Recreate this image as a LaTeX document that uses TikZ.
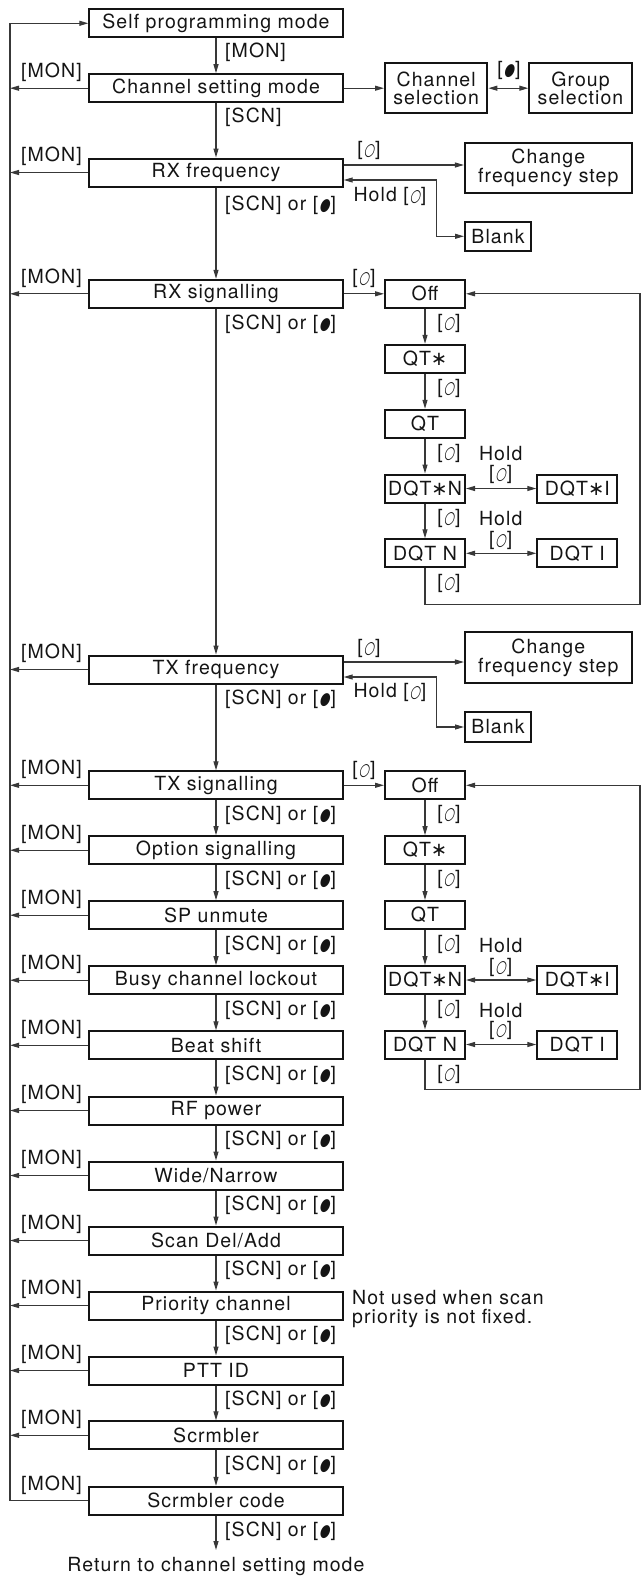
\documentclass[tikz,border=0pt]{standalone}
\usepackage{fontspec}
\setmainfont{TeX Gyre Heros}[LetterSpace=5.5]
\newfontfamily\symf[FakeSlant=0.25,FakeStretch=0.7]{DejaVu Sans}
\newfontfamily\astf{DejaVu Sans}
\newcommand{\kbdot}{\hspace{0.8pt}{\symf\fontsize{17}{17}\selectfont ●}\hspace{1pt}}
\newcommand{\kbring}{\hspace{0.8pt}{\symf\fontsize{17}{17}\selectfont ○}\hspace{1pt}}
\usetikzlibrary{arrows.meta,calc}
\tikzset{
  mbox/.style={draw=black!92, line width=2pt, minimum width=253.4pt, minimum height=28pt, inner sep=0pt},
  gbox/.style={draw=black!92, line width=2pt, inner sep=0pt, align=center},
  sbox/.style={gbox, minimum width=80pt, minimum height=28pt},
  conn/.style={line width=1.1pt, draw=black!78},
  arr/.style={conn, -{Triangle[length=9pt,width=5pt]}},
  barr/.style={conn, {Triangle[length=9pt,width=5pt]}-{Triangle[length=9pt,width=5pt]}},
  lbl/.style={inner sep=0pt},
}
\begin{document}
\begin{tikzpicture}[x=1pt,y=-1pt, every node/.append style={font=\fontsize{19.5}{18.5}\selectfont, text=black!92}]
\useasboundingbox (0,0) rectangle (642,1576);
\coordinate (lx) at (10,0);
\coordinate (lbx) at (51.5,0);
\coordinate (rx) at (640,0);
% main column
\node[mbox] (self) at (216,23.3) {Self programming mode};
\node[mbox] (chset) at (216,88.2) {Channel setting mode};
\node[mbox] (rxf) at (216,172.5) {RX frequency};
\node[mbox] (rxs) at (216,293.8) {RX signalling};
\node[mbox] (txf) at (216,669.5) {TX frequency};
\node[mbox] (txs) at (216,785.3) {TX signalling};
\node[mbox] (opt) at (216,850.2) {Option signalling};
\node[mbox] (spu) at (216,915.2) {SP unmute};
\node[mbox] (bcl) at (216,980.2) {Busy channel lockout};
\node[mbox] (beat) at (216,1045.3) {Beat shift};
\node[mbox] (rfp) at (216,1110.5) {RF power};
\node[mbox] (wn) at (216,1175.5) {Wide/Narrow};
\node[mbox] (scan) at (216,1240.5) {Scan Del/Add};
\node[mbox] (prio) at (216,1305.5) {Priority channel};
\node[mbox] (ptt) at (216,1370.5) {PTT ID};
\node[mbox] (scr) at (216,1435.3) {Scrmbler};
\node[mbox] (scrc) at (216,1500.8) {Scrmbler code};
\coordinate (endc) at (216,1550);
\node[lbl] (ret) at (216,1566) {Return to channel setting mode};
% right-hand top
\node[gbox, minimum width=102.4pt, minimum height=50.6pt] (csel) at (436.2,88.2) {Channel\\selection};
\node[gbox, minimum width=102.4pt, minimum height=50.6pt] (gsel) at (580.5,88.2) {Group\\selection};
\node[gbox, minimum width=166.7pt, minimum height=50pt] (rcfs) at (548.3,167.7) {Change\\frequency step};
\node[gbox, minimum width=66pt, minimum height=29.3pt] (rblank) at (498,236.3) {Blank};
\node[gbox, minimum width=166.7pt, minimum height=51pt] (tcfs) at (548.3,657.8) {Change\\frequency step};
\node[gbox, minimum width=66pt, minimum height=29.3pt] (tblank) at (498,727) {Blank};
\coordinate (rhc) at (436.7,180);
\coordinate (thc) at (436.7,677);
% RX signalling column
\node[sbox] (roff) at (425,293.8) {Off};
\node[sbox] (rqts) at (425,358.8) {QT{\astf ∗}};
\node[sbox] (rqt) at (425,423.8) {QT};
\node[sbox] (rdqtsn) at (425,488.5) {DQT{\astf ∗}N};
\node[sbox] (rdqtn) at (425,553.3) {DQT N};
\node[sbox] (rdqtsi) at (577.3,488.5) {DQT{\astf ∗}I};
\node[sbox] (rdqti) at (577.3,553.3) {DQT I};
% TX signalling column
\node[sbox] (toff) at (425,785.3) {Off};
\node[sbox] (tqts) at (425,850.2) {QT{\astf ∗}};
\node[sbox] (tqt) at (425,915.0) {QT};
\node[sbox] (tdqtsn) at (425,980.0) {DQT{\astf ∗}N};
\node[sbox] (tdqtn) at (425,1044.5) {DQT N};
\node[sbox] (tdqtsi) at (577.3,980.0) {DQT{\astf ∗}I};
\node[sbox] (tdqti) at (577.3,1044.5) {DQT I};
% main down arrows
\foreach \a/\b in {self/chset,chset/rxf,rxf/rxs,rxs/txf,txf/txs,txs/opt,opt/spu,spu/bcl,bcl/beat,beat/rfp,rfp/wn,wn/scan,scan/prio,prio/ptt,ptt/scr,scr/scrc}
  \draw[arr] (\a.south) -- (\b.north);
\draw[arr] (scrc.south) -- (endc);
% left return arrows and labels
\foreach \n in {chset,rxf,rxs,txf,txs,opt,spu,bcl,beat,rfp,wn,scan,prio,ptt,scr}
  \draw[arr] (\n.west) -- (\n.west -| lx);
\foreach \n in {chset,rxf,rxs,txf,txs,opt,spu,bcl,beat,rfp,wn,scan,prio,ptt,scr,scrc}
  \node[lbl] at ($(\n.north -| lbx)+(0,-1)$) {[MON]};
\draw[arr] (scrc.west) -- (scrc.west -| lx) |- (self.west);
% main labels
\node[lbl, anchor=west] at (225,52) {[MON]};
\node[lbl, anchor=west] at (225,117) {[SCN]};
\node[lbl, anchor=west] at (225,205) {[SCN] or [\kbdot]};
\foreach \n in {rxs,txf,txs,opt,spu,bcl,beat,rfp,wn,scan,prio,ptt,scr,scrc}
  \node[lbl, anchor=west] at ($(\n.center -| 225,0)+(0,30)$) {[SCN] or [\kbdot]};
\node[lbl, anchor=west, align=left] at (352,1309) {Not used when scan\\priority is not fixed.};
% channel selection
\draw[arr] (chset.east) -- (csel.west);
\draw[barr] (csel.east) -- (gsel.west);
\node[lbl] at (509,70.5) {[\kbdot]};
% RX frequency side
\draw[arr] ([yshift=7.5pt]rxf.east) coordinate (ra) -- (ra -| rcfs.west);
\draw[barr] ([yshift=-7.5pt]rxf.east) -- (rhc) |- (rblank.west);
\node[lbl] at (369,150.5) {[\kbring]};
\node[lbl] at (390,196) {Hold [\kbring]};
% TX frequency side
\draw[arr] ([yshift=7.5pt]txf.east) coordinate (ta) -- (ta -| tcfs.west);
\draw[barr] ([yshift=-7.5pt]txf.east) -- (thc) |- (tblank.west);
\node[lbl] at (369,648.3) {[\kbring]};
\node[lbl] at (390,692.7) {Hold [\kbring]};
% RX signalling column connectors
\draw[arr] (rxs.east) -- (roff.west);
\node[lbl] at (364,278) {[\kbring]};
\foreach \a/\b in {roff/rqts,rqts/rqt,rqt/rdqtsn,rdqtsn/rdqtn}
  \draw[arr] (\a.south) -- (\b.north);
\foreach \n in {roff,rqts,rqt,rdqtsn,rdqtn}
  \node[lbl] at ($(\n.center)+(24,30)$) {[\kbring]};
\draw[barr] (rdqtsn.east) -- (rdqtsi.west);
\draw[barr] (rdqtn.east) -- (rdqti.west);
\node[lbl] at ($(rqt.center -| rdqtsi.west)+(-35.6,30)$) {Hold};
\node[lbl] at ($(rqt.center -| rdqtsi.west)+(-35.6,51)$) {[\kbring]};
\node[lbl] at ($(rdqtsn.center -| rdqtsi.west)+(-35.6,30.5)$) {Hold};
\node[lbl] at ($(rdqtsn.center -| rdqtsi.west)+(-35.6,52)$) {[\kbring]};
\draw[arr] (rdqtn.south) -- ++(0,36) coordinate (rl) -- (rl -| rx) |- (roff.east);
% TX signalling column connectors
\draw[arr] (txs.east) -- (toff.west);
\node[lbl] at (364,770) {[\kbring]};
\foreach \a/\b in {toff/tqts,tqts/tqt,tqt/tdqtsn,tdqtsn/tdqtn}
  \draw[arr] (\a.south) -- (\b.north);
\foreach \n in {toff,tqts,tqt,tdqtsn,tdqtn}
  \node[lbl] at ($(\n.center)+(24,29.5)$) {[\kbring]};
\draw[barr] (tdqtsn.east) -- (tdqtsi.west);
\draw[barr] (tdqtn.east) -- (tdqti.west);
\node[lbl] at ($(tqt.center -| tdqtsi.west)+(-35.6,31)$) {Hold};
\node[lbl] at ($(tqt.center -| tdqtsi.west)+(-35.6,52)$) {[\kbring]};
\node[lbl] at ($(tdqtsn.center -| tdqtsi.west)+(-35.6,30.5)$) {Hold};
\node[lbl] at ($(tdqtsn.center -| tdqtsi.west)+(-35.6,50.5)$) {[\kbring]};
\draw[arr] (tdqtn.south) -- ++(0,30) coordinate (tl) -- (tl -| rx) |- (toff.east);
\end{tikzpicture}
\end{document}
